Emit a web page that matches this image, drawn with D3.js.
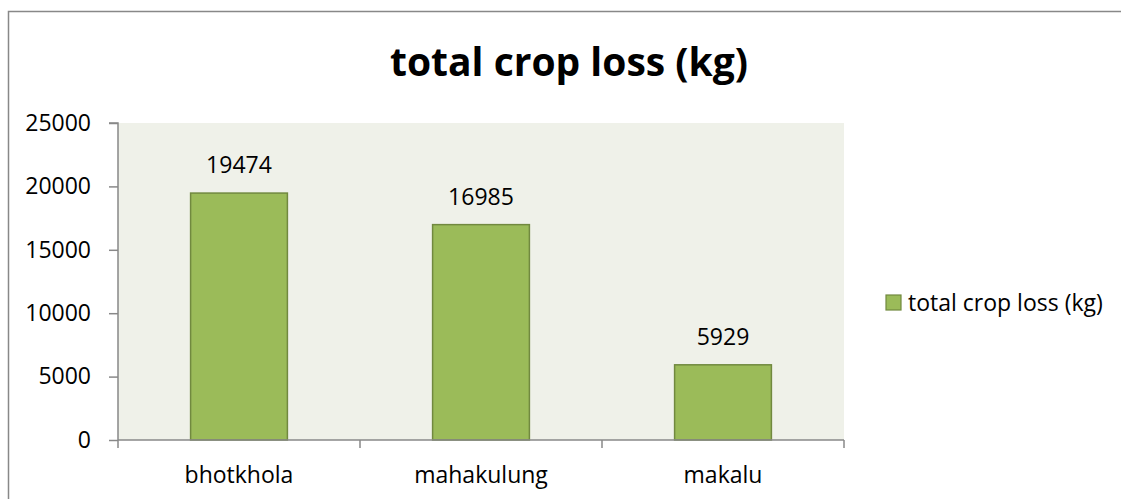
<!DOCTYPE html>
<html>
<head>
<meta charset="utf-8">
<script src="https://cdn.jsdelivr.net/npm/d3@7"></script>
<style>
  body { margin: 0; background: #fff; overflow: hidden; }
  svg { display: block; }
  text { font-family: "Open Sans", "Noto Sans", sans-serif; fill: #000; }
</style>
</head>
<body>
<div id="chartArea"></div>
<script>
const categories = ["bhotkhola", "mahakulung", "makalu"];
const cropLoss = [19474, 16985, 5929];
const seriesName = "total crop loss (kg)";
const yTicks = [0, 5000, 10000, 15000, 20000, 25000];

const w = 1121;
const h = 499;
const plot = {left: 118, right: 844, top: 123, bottom: 440};
const fs = 23;

const svg = d3.select("#chartArea")
    .append("svg")
    .attr("width", w)
    .attr("height", h);

// outer chart border: only its top and left edges are in the picture
svg.append("path")
    .attr("d", `M8.5,${h}V11.5H${w}`)
    .style("fill", "none")
    .style("stroke", "#888")
    .style("stroke-width", 1.5);

svg.append("rect")
    .attr("x", plot.left)
    .attr("y", plot.top)
    .attr("width", plot.right - plot.left)
    .attr("height", plot.bottom - plot.top)
    .attr("fill", "#eff1e9");

let x = d3.scaleBand()
    .domain(categories)
    .range([plot.left, plot.right])
    .paddingInner(0.6)
    .paddingOuter(0.3);

let y = d3.scaleLinear()
    .domain([0, 25000])
    .range([plot.bottom, plot.top]);

// title
svg.append("text")
    .attr("x", 569)
    .attr("y", 76)
    .attr("text-anchor", "middle")
    .attr("font-size", 39)
    .attr("font-weight", "bold")
    .text(seriesName);

// y axis
let yAxis = d3.axisLeft(y)
    .tickValues(yTicks)
    .tickSize(9)
    .tickPadding(18)
    .tickFormat(d3.format("d"));

let gy = svg.append("g")
    .attr("transform", `translate(${plot.left},0)`)
    .call(yAxis);
gy.selectAll("text").attr("font-size", fs).attr("font-family", null);
gy.selectAll("line, path").attr("stroke", "#888").attr("stroke-width", 1.5);
gy.select(".domain").attr("d", `M${-9},${plot.top}H0V${plot.bottom}`);

// bars
svg.selectAll("rect.bar")
    .data(cropLoss)
    .enter()
    .append("rect")
    .attr("class", "bar")
    .attr("x", (d, i) => x(categories[i]))
    .attr("y", d => y(d))
    .attr("width", x.bandwidth())
    .attr("height", d => y(0) - y(d))
    .attr("fill", "#9bbb59")
    .attr("stroke", "#71893f")
    .attr("stroke-width", 1.5);

// value labels
svg.selectAll("text.val")
    .data(cropLoss)
    .enter()
    .append("text")
    .attr("class", "val")
    .attr("x", (d, i) => x(categories[i]) + x.bandwidth() / 2)
    .attr("y", d => y(d) - 28)
    .attr("dy", "0.35em")
    .attr("text-anchor", "middle")
    .attr("font-size", fs)
    .text(d => d);

// x axis: ticks between categories
let step = x.step();
let bounds = d3.range(categories.length + 1).map(i => plot.left + i * step);
let gx = svg.append("g");
gx.append("line")
    .attr("x1", plot.left).attr("x2", plot.right)
    .attr("y1", plot.bottom).attr("y2", plot.bottom)
    .attr("stroke", "#888").attr("stroke-width", 1.5);
gx.selectAll("line.tick")
    .data(bounds)
    .enter()
    .append("line")
    .attr("class", "tick")
    .attr("x1", d => d).attr("x2", d => d)
    .attr("y1", plot.bottom).attr("y2", plot.bottom + 8)
    .attr("stroke", "#888").attr("stroke-width", 1.5);
gx.selectAll("text")
    .data(categories)
    .enter()
    .append("text")
    .attr("x", d => x(d) + x.bandwidth() / 2)
    .attr("y", plot.bottom + 35)
    .attr("dy", "0.35em")
    .attr("text-anchor", "middle")
    .attr("font-size", fs)
    .text(d => d);

// legend
let lg = svg.append("g").attr("transform", "translate(886,295)");
lg.append("rect")
    .attr("width", 15).attr("height", 15)
    .attr("fill", "#9bbb59")
    .attr("stroke", "#71893f")
    .attr("stroke-width", 1.2);
lg.append("text")
    .attr("x", 22)
    .attr("y", 7.5)
    .attr("dy", "0.35em")
    .attr("font-size", fs)
    .text(seriesName);
</script>
</body>
</html>
